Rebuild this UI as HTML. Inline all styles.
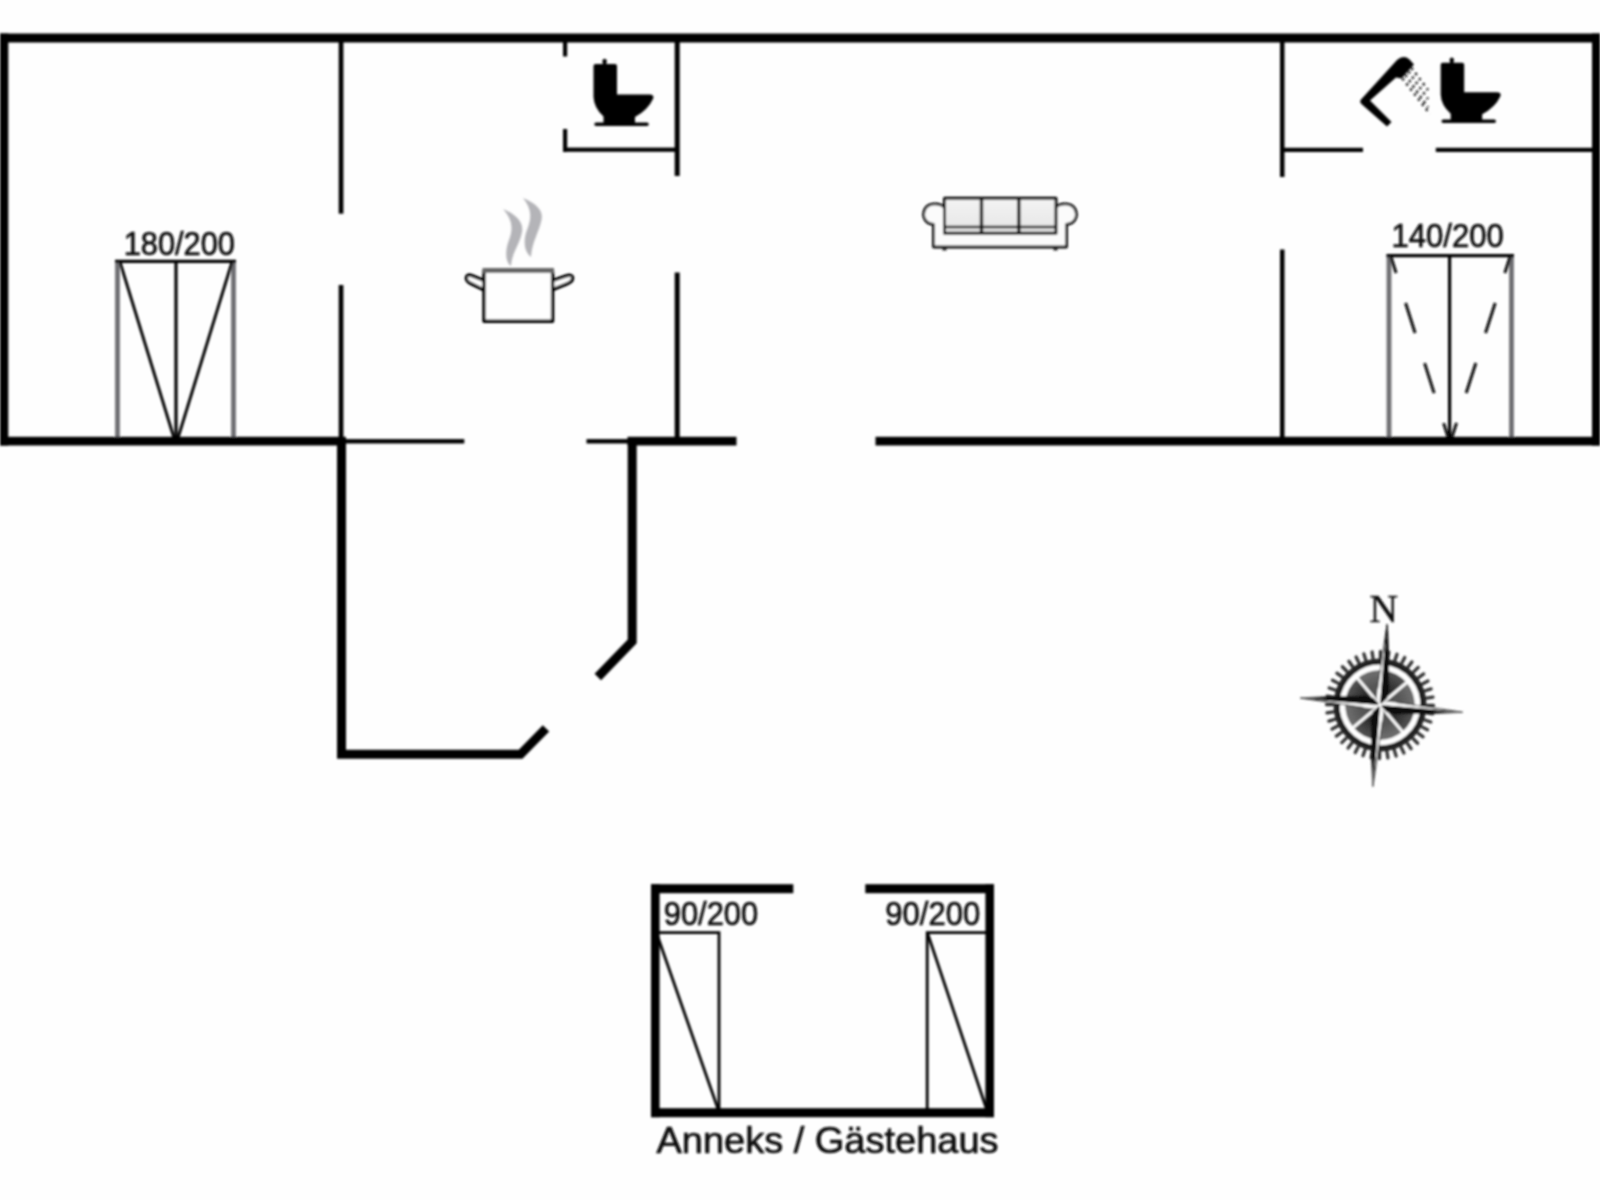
<!DOCTYPE html>
<html><head><meta charset="utf-8">
<style>
html,body{margin:0;padding:0;background:#fefefe;}
body{width:1600px;height:1200px;overflow:hidden;position:relative;font-family:"Liberation Sans",sans-serif;}
svg{position:absolute;left:0;top:0;display:block}
text{font-family:"Liberation Sans",sans-serif;fill:#111}
.lbl{stroke:#111;stroke-width:0.7}
.serif{font-family:"Liberation Serif",serif}
</style></head><body>
<svg width="1600" height="1200" viewBox="0 0 1600 1200">
<defs>
<filter id="soft" x="-2%" y="-2%" width="104%" height="104%"><feGaussianBlur stdDeviation="1.0"/></filter>
<linearGradient id="sofag" x1="0" y1="0" x2="0" y2="1"><stop offset="0" stop-color="#f4f4f4"/><stop offset="1" stop-color="#e4e4e4"/></linearGradient>
<radialGradient id="cg" cx="0.5" cy="0.5" r="0.5"><stop offset="0" stop-color="#555"/><stop offset="0.6" stop-color="#666"/><stop offset="1" stop-color="#444"/></radialGradient>
<radialGradient id="sd" gradientUnits="userSpaceOnUse" cx="0" cy="0" r="35"><stop offset="0" stop-color="#1a1a1a"/><stop offset="0.55" stop-color="#2e2e2e"/><stop offset="1" stop-color="#555"/></radialGradient>
<radialGradient id="sl" gradientUnits="userSpaceOnUse" cx="0" cy="0" r="35"><stop offset="0" stop-color="#444"/><stop offset="0.6" stop-color="#585858"/><stop offset="1" stop-color="#707070"/></radialGradient>
<radialGradient id="fade" gradientUnits="userSpaceOnUse" cx="0" cy="0" r="84"><stop offset="0" stop-color="#080808"/><stop offset="0.62" stop-color="#0c0c0c"/><stop offset="0.8" stop-color="#555"/><stop offset="1" stop-color="#999"/></radialGradient>
</defs>
<rect width="1600" height="1200" fill="#fefefe"/>
<g filter="url(#soft)">

<!-- ===== BED 1 ===== -->
<g id="bed1">
<line x1="117.5" y1="261" x2="117.5" y2="438" stroke="#6e6e72" stroke-width="4.8"/>
<line x1="233.5" y1="261" x2="233.5" y2="438" stroke="#6e6e72" stroke-width="4.8"/>
<line x1="115" y1="261.3" x2="236" y2="261.3" stroke="#050505" stroke-width="3.3"/>
<line x1="176" y1="261" x2="176" y2="438" stroke="#050505" stroke-width="3.2"/>
<line x1="120" y1="262" x2="174" y2="438" stroke="#050505" stroke-width="2.9"/>
<line x1="232" y1="262" x2="178" y2="438" stroke="#050505" stroke-width="2.9"/>
</g>
<text class="lbl" x="123.7" y="254.6" font-size="32.6" textLength="111.3" lengthAdjust="spacingAndGlyphs">180/200</text>

<!-- ===== BED 2 ===== -->
<g id="bed2">
<line x1="1389" y1="255" x2="1389" y2="438" stroke="#6e6e72" stroke-width="4.8"/>
<line x1="1511.5" y1="255" x2="1511.5" y2="438" stroke="#6e6e72" stroke-width="4.8"/>
<line x1="1386.5" y1="255.6" x2="1514" y2="255.6" stroke="#050505" stroke-width="3.3"/>
<line x1="1449.6" y1="255" x2="1449.6" y2="438" stroke="#050505" stroke-width="3.2"/>
<line x1="1391" y1="257" x2="1448" y2="437" stroke="#111" stroke-width="3" stroke-dasharray="31.5 31.5" stroke-dashoffset="14.7"/>
<line x1="1510" y1="257" x2="1452" y2="437" stroke="#111" stroke-width="3" stroke-dasharray="31.5 31.5" stroke-dashoffset="14.7"/>
</g>
<text class="lbl" x="1391.5" y="247.1" font-size="32.6" textLength="112.3" lengthAdjust="spacingAndGlyphs">140/200</text>

<!-- ===== WALLS main ===== -->
<g fill="#000">
<rect x="0" y="33.5" width="1600" height="9"/>
<rect x="0" y="33.5" width="8.3" height="412"/>
<rect x="1592" y="33.5" width="8" height="412"/>
<rect x="0" y="436.8" width="346" height="8.7"/>
<rect x="627.5" y="436.8" width="109" height="8.7"/>
<rect x="875.5" y="436.8" width="724.5" height="8.7"/>
<!-- thin bottom -->
<rect x="340" y="439.1" width="124.3" height="4.4"/>
<rect x="586.5" y="439.1" width="45" height="4.4"/>
<!-- interior wall 1 -->
<rect x="338.7" y="40" width="4.7" height="173.7"/>
<rect x="338.7" y="285" width="4.7" height="155"/>
<!-- WC room -->
<rect x="563" y="40" width="4.2" height="16.5"/>
<rect x="563" y="129" width="4.2" height="23"/>
<rect x="563" y="147.6" width="115" height="4.2"/>
<!-- interior wall 2 -->
<rect x="674.7" y="40" width="5" height="136"/>
<rect x="674.7" y="272.5" width="5" height="167"/>
<!-- interior wall 3 -->
<rect x="1280" y="40" width="4.5" height="137"/>
<rect x="1280" y="249.5" width="4.5" height="190"/>
<!-- bath bottom -->
<rect x="1282" y="147.8" width="81" height="4.2"/>
<rect x="1435.8" y="147.8" width="160" height="4.2"/>
</g>
<!-- porch -->
<g fill="none" stroke="#000" stroke-width="9" stroke-linejoin="miter">
<path d="M341.5,440 L341.5,754.3 L520.5,754.3 L546,728.3"/>
<path d="M632.2,440 L632.2,641.5 L597.8,677"/>
</g>

<!-- ===== Annex ===== -->
<g id="annex">
<g fill="none" stroke="#050505" stroke-width="2.8">
<path d="M656,932.6 L719,932.6 L719,1110"/>
<line x1="656.5" y1="933" x2="718" y2="1109"/>
<path d="M988,932.6 L927.2,932.6 L927.2,1110"/>
<line x1="927.5" y1="933" x2="986.5" y2="1109"/>
</g>
<g fill="#000">
<rect x="651" y="884.2" width="142.3" height="9"/>
<rect x="865.3" y="884.2" width="128.7" height="9"/>
<rect x="651" y="884.2" width="8.6" height="233"/>
<rect x="985.4" y="884.2" width="8.6" height="233"/>
<rect x="651" y="1108.2" width="343" height="9"/>
</g>
<text class="lbl" x="663.8" y="925" font-size="32.6" textLength="94.4" lengthAdjust="spacingAndGlyphs">90/200</text>
<text class="lbl" x="885.3" y="925" font-size="32.6" textLength="94.9" lengthAdjust="spacingAndGlyphs">90/200</text>
<text class="lbl" x="656.5" y="1152.6" font-size="36.5" textLength="342" lengthAdjust="spacingAndGlyphs">Anneks / Gästehaus</text>
</g>

<!-- ===== Toilet 1 ===== -->
<g id="wc1" fill="#000">
<path id="wcp" d="M593.5,66 Q593.5,64 595.5,64 L602.8,64 L602.8,62.5 A2.3,2.3 0 1 1 606.4,62.5 L606.4,64 L615,64 Q617,64 617,66 L617,94.5 L649.5,94.5 Q654.5,94.8 653.2,98.5 Q648,110 635,117 L635,122.5 L647,122.5 Q648.8,122.5 648.8,124.2 Q648.8,126 647,126 L596,126 Q594.3,126 594.3,124.2 Q594.3,122.5 596,122.5 L603.5,122.5 L603.5,116.5 Q594,108 593.5,97 Z"/>
</g>
<!-- ===== Toilet 2 ===== -->
<g id="wc2" fill="#000" transform="translate(847.2,0.5) scale(1,0.972)">
<path d="M593.5,66 Q593.5,64 595.5,64 L602.8,64 L602.8,62.5 A2.3,2.3 0 1 1 606.4,62.5 L606.4,64 L615,64 Q617,64 617,66 L617,94.5 L649.5,94.5 Q654.5,94.8 653.2,98.5 Q648,110 635,117 L635,122.5 L647,122.5 Q648.8,122.5 648.8,124.2 Q648.8,126 647,126 L596,126 Q594.3,126 594.3,124.2 Q594.3,122.5 596,122.5 L603.5,122.5 L603.5,116.5 Q594,108 593.5,97 Z"/>
</g>

<!-- ===== Shower ===== -->
<g id="shower">
<path fill="#000" d="M1361,99.5 L1397,60 Q1403.5,54.5 1409.5,59.5 L1414,64.5 L1401.5,78.5 L1396,77.5 L1370,100.5 L1391.5,122 L1387,126.5 L1362,104.5 Q1359,102 1361,99.5 Z"/>
<g stroke="#1a1a1a" stroke-width="2.5" stroke-dasharray="2.3 4.1" fill="none">
<line x1="1411.5" y1="68" x2="1428" y2="90"/>
<line x1="1408.5" y1="71.5" x2="1428" y2="99"/>
<line x1="1405.5" y1="75" x2="1428" y2="107.5"/>
<line x1="1402.5" y1="78.5" x2="1430" y2="114"/>
</g>
</g>

<!-- ===== Pot ===== -->
<g id="pot">
<path fill="#b4b4b8" d="M503,209 C515,214 524,222 522,232 C520,244 512,252 511,266 C505,262 505,250 509,240 C513,230 513,220 503,209 Z"/>
<path fill="#b4b4b8" d="M523,198 C535,203 544,210 541.5,220 C539,232 532,242 531,257 C524,252 523,240 527,230 C531,220 533,210 523,198 Z"/>
<g fill="#fefefe" stroke="#050505" stroke-width="3.4" stroke-linejoin="round" stroke-linecap="round">
<path d="M484,280.5 L472,275.6 Q466.5,273.8 466.3,278 Q466.3,281.5 471,283.6 L484,290"/>
<path d="M552.6,280.5 L566,275.8 Q572.6,274 572.6,278.2 Q572.4,282 567,283.8 L552.6,289.6"/>
<rect x="484" y="271" width="68.6" height="50.2" />
</g>
<line x1="482.5" y1="270.5" x2="554" y2="270.5" stroke="#666" stroke-width="5"/>
</g>

<!-- ===== Sofa ===== -->
<g id="sofa" fill="none" stroke="#111" stroke-width="2.8" stroke-linejoin="round">
<path fill="#fbfbfb" d="M944,207 C940,203 929,202 925,209 C921,217 926,224 933.5,224.5 L933.5,247 L1066.5,247 L1066.5,224.5 C1074,224 1079,217 1075,209 C1071,202 1060,203 1056,207"/>
<rect x="944.5" y="198.2" width="111.5" height="35" fill="url(#sofag)" stroke-width="3"/>
<line x1="944.5" y1="227" x2="1056" y2="227" stroke-width="2.6"/>
<line x1="981.5" y1="198" x2="981.5" y2="233" stroke-width="3.4"/>
<line x1="1018.8" y1="198" x2="1018.8" y2="233" stroke-width="3.4"/>
<rect x="942.5" y="247" width="4" height="3.5" fill="#222" stroke="none"/>
<rect x="1053.5" y="247" width="4" height="3.5" fill="#222" stroke="none"/>
</g>

<!-- ===== Compass ===== -->
<text class="serif" x="1369.6" y="621.7" font-size="39.5" fill="#1c1c1c" stroke="#1c1c1c" stroke-width="0.4">N</text>
<g id="compass" transform="translate(1380,705) rotate(5)">
<g stroke="#333" stroke-width="3.3" stroke-linecap="round">
<line x1="3.7" y1="-47.2" x2="4.2" y2="-53.4"/>
<line x1="11.0" y1="-46.0" x2="12.5" y2="-52.1"/>
<line x1="18.1" y1="-43.7" x2="20.5" y2="-49.5"/>
<line x1="24.7" y1="-40.3" x2="28.0" y2="-45.7"/>
<line x1="30.7" y1="-36.0" x2="34.8" y2="-40.8"/>
<line x1="36.0" y1="-30.7" x2="40.8" y2="-34.8"/>
<line x1="40.3" y1="-24.7" x2="45.7" y2="-28.0"/>
<line x1="43.7" y1="-18.1" x2="49.5" y2="-20.5"/>
<line x1="46.0" y1="-11.0" x2="52.1" y2="-12.5"/>
<line x1="47.2" y1="-3.7" x2="53.4" y2="-4.2"/>
<line x1="47.2" y1="3.7" x2="53.4" y2="4.2"/>
<line x1="46.0" y1="11.0" x2="52.1" y2="12.5"/>
<line x1="43.7" y1="18.1" x2="49.5" y2="20.5"/>
<line x1="40.3" y1="24.7" x2="45.7" y2="28.0"/>
<line x1="36.0" y1="30.7" x2="40.8" y2="34.8"/>
<line x1="30.7" y1="36.0" x2="34.8" y2="40.8"/>
<line x1="24.7" y1="40.3" x2="28.0" y2="45.7"/>
<line x1="18.1" y1="43.7" x2="20.5" y2="49.5"/>
<line x1="11.0" y1="46.0" x2="12.5" y2="52.1"/>
<line x1="3.7" y1="47.2" x2="4.2" y2="53.4"/>
<line x1="-3.7" y1="47.2" x2="-4.2" y2="53.4"/>
<line x1="-11.0" y1="46.0" x2="-12.5" y2="52.1"/>
<line x1="-18.1" y1="43.7" x2="-20.5" y2="49.5"/>
<line x1="-24.7" y1="40.3" x2="-28.0" y2="45.7"/>
<line x1="-30.7" y1="36.0" x2="-34.8" y2="40.8"/>
<line x1="-36.0" y1="30.7" x2="-40.8" y2="34.8"/>
<line x1="-40.3" y1="24.7" x2="-45.7" y2="28.0"/>
<line x1="-43.7" y1="18.1" x2="-49.5" y2="20.5"/>
<line x1="-46.0" y1="11.0" x2="-52.1" y2="12.5"/>
<line x1="-47.2" y1="3.7" x2="-53.4" y2="4.2"/>
<line x1="-47.2" y1="-3.7" x2="-53.4" y2="-4.2"/>
<line x1="-46.0" y1="-11.0" x2="-52.1" y2="-12.5"/>
<line x1="-43.7" y1="-18.1" x2="-49.5" y2="-20.5"/>
<line x1="-40.3" y1="-24.7" x2="-45.7" y2="-28.0"/>
<line x1="-36.0" y1="-30.7" x2="-40.8" y2="-34.8"/>
<line x1="-30.7" y1="-36.0" x2="-34.8" y2="-40.8"/>
<line x1="-24.7" y1="-40.3" x2="-28.0" y2="-45.7"/>
<line x1="-18.1" y1="-43.7" x2="-20.5" y2="-49.5"/>
<line x1="-11.0" y1="-46.0" x2="-12.5" y2="-52.1"/>
<line x1="-3.7" y1="-47.2" x2="-4.2" y2="-53.4"/>
</g>
<circle r="43.3" fill="none" stroke="#222" stroke-width="6.2"/>
<path d="M0,0 L0.00,-35.00 A35,35 0 0 1 24.75,-24.75 Z" fill="url(#sd)"/>
<path d="M0,0 L24.75,-24.75 A35,35 0 0 1 35.00,-0.00 Z" fill="url(#sl)"/>
<path d="M0,0 L35.00,-0.00 A35,35 0 0 1 24.75,24.75 Z" fill="url(#sd)"/>
<path d="M0,0 L24.75,24.75 A35,35 0 0 1 0.00,35.00 Z" fill="url(#sl)"/>
<path d="M0,0 L0.00,35.00 A35,35 0 0 1 -24.75,24.75 Z" fill="url(#sd)"/>
<path d="M0,0 L-24.75,24.75 A35,35 0 0 1 -35.00,0.00 Z" fill="url(#sl)"/>
<path d="M0,0 L-35.00,0.00 A35,35 0 0 1 -24.75,-24.75 Z" fill="url(#sd)"/>
<path d="M0,0 L-24.75,-24.75 A35,35 0 0 1 -0.00,-35.00 Z" fill="url(#sl)"/>
<g stroke="#fff" stroke-width="2.8" stroke-linecap="butt">
<line x1="-26.5" y1="-26.5" x2="26.5" y2="26.5"/>
<line x1="-26.5" y1="26.5" x2="26.5" y2="-26.5"/>
</g>
<circle r="37.6" fill="none" stroke="#fff" stroke-width="5.2"/>
<path d="M0.0,-81.0 L-2.0,-48.6 L-3.8,-16.0 L-3.8,-7.0 L0,0 Z" fill="#fff"/><path d="M-0.6,-81.0 L0.8,-81.0 L3.4,-59.9 L5.8,-36.5 L7.8,-16.0 L6.5,-7.0 L0,0 Z" fill="#080808"/><path d="M0.0,-81.0 L-2.0,-48.6 L-3.8,-16.0" fill="none" stroke="#333" stroke-width="1"/>
<path d="M83.0,-0.0 L49.8,-2.0 L16.0,-3.8 L7.0,-3.8 L0,0 Z" fill="#fff"/><path d="M83.0,-0.6 L83.0,0.8 L61.4,3.4 L37.4,5.8 L16.0,7.8 L7.0,6.5 L0,0 Z" fill="url(#fade)"/><path d="M83.0,-0.0 L49.8,-2.0 L16.0,-3.8" fill="none" stroke="#333" stroke-width="1"/>
<path d="M0.0,82.0 L2.0,49.2 L3.8,16.0 L3.8,7.0 L0,0 Z" fill="#fff"/><path d="M0.6,82.0 L-0.8,82.0 L-3.4,60.7 L-5.8,36.9 L-7.8,16.0 L-6.5,7.0 L0,0 Z" fill="url(#fade)"/><path d="M0.0,82.0 L2.0,49.2 L3.8,16.0" fill="none" stroke="#333" stroke-width="1"/>
<path d="M-80.0,0.0 L-48.0,2.0 L-16.0,3.8 L-7.0,3.8 L0,0 Z" fill="#fff"/><path d="M-80.0,0.6 L-80.0,-0.8 L-59.2,-3.4 L-36.0,-5.8 L-16.0,-7.8 L-7.0,-6.5 L0,0 Z" fill="url(#fade)"/><path d="M-80.0,0.0 L-48.0,2.0 L-16.0,3.8" fill="none" stroke="#333" stroke-width="1"/>
<circle r="2" fill="#fff"/>
</g>

</g>
</svg>
</body></html>
